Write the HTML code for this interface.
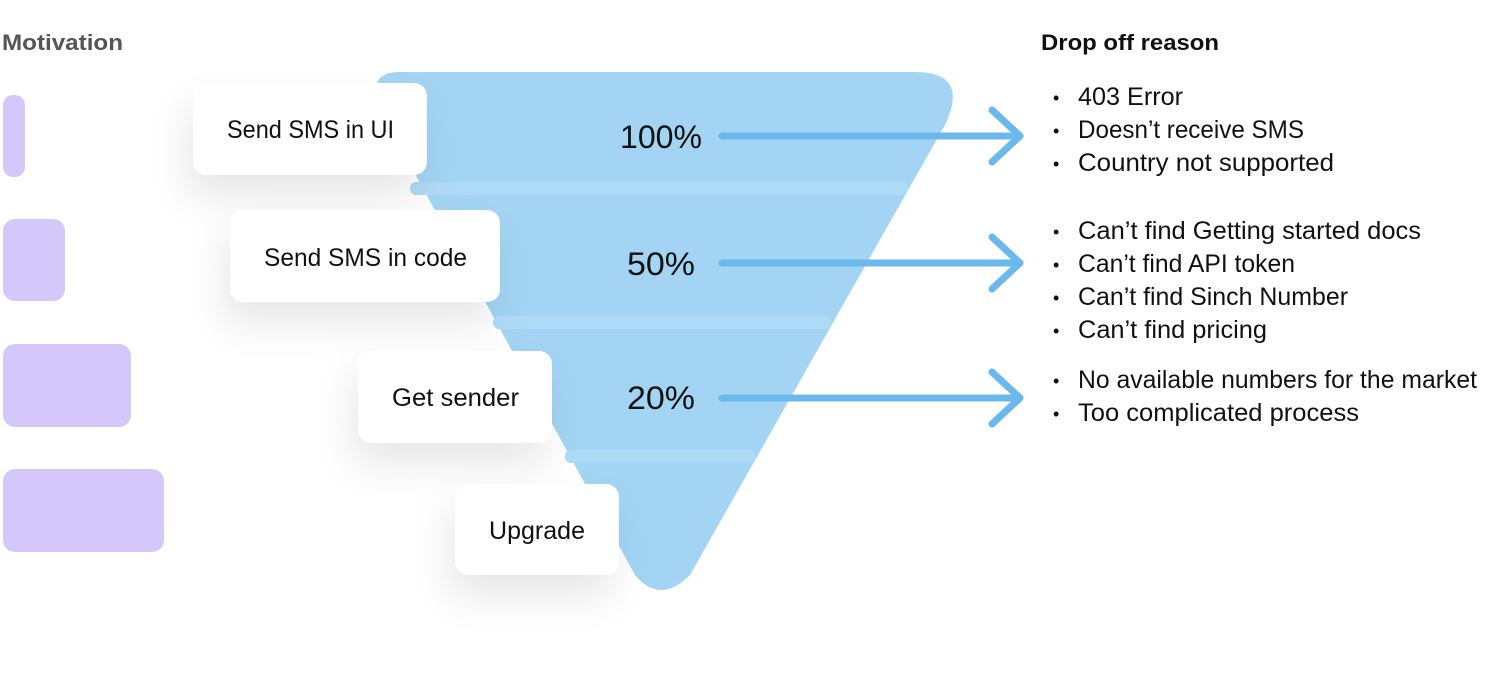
<!DOCTYPE html>
<html><head><meta charset="utf-8"><style>
html,body{margin:0;padding:0;background:#fff;}
svg{display:block;font-family:"Liberation Sans",sans-serif;}
</style></head><body>
<svg width="1500" height="673" viewBox="0 0 1500 673" xmlns="http://www.w3.org/2000/svg">
<defs>
<filter id="sh" x="-50%" y="-40%" width="200%" height="220%">
<feDropShadow dx="-6" dy="22" stdDeviation="18" flood-color="#000" flood-opacity="0.09"/>
</filter>
</defs>
<text x="2" y="50" font-size="22" font-weight="bold" fill="#555" textLength="121" lengthAdjust="spacingAndGlyphs">Motivation</text>
<rect x="3" y="95" width="22" height="82" rx="10" fill="#d4c8fa"/>
<rect x="3" y="219" width="62" height="82" rx="12" fill="#d4c8fa"/>
<rect x="3" y="344" width="128" height="83" rx="12" fill="#d4c8fa"/>
<rect x="3" y="469" width="161" height="83" rx="12" fill="#d4c8fa"/>

<path d="M400 72 L915 72 Q970 72 945 125 L690 575 Q660 605 635 575 L380 110 Q365 72 400 72 Z" fill="#a3d4f4"/>
<rect x="410" y="182" width="498" height="13" rx="6" fill="#afdaf6"/>
<rect x="493" y="316" width="338" height="13" rx="6" fill="#afdaf6"/>
<rect x="565" y="450" width="190" height="13" rx="6" fill="#afdaf6"/>

<g filter="url(#sh)" fill="#fff">
<rect x="193" y="83" width="234" height="92" rx="13"/>
<rect x="230" y="210" width="270" height="92" rx="13"/>
<rect x="358" y="351" width="194" height="92" rx="13"/>
<rect x="455" y="484" width="164" height="91" rx="13"/>
</g>
<g font-size="25" fill="#111">
<text x="227" y="138" textLength="167" lengthAdjust="spacingAndGlyphs">Send SMS in UI</text>
<text x="264" y="266" textLength="203" lengthAdjust="spacingAndGlyphs">Send SMS in code</text>
<text x="392" y="406" textLength="127" lengthAdjust="spacingAndGlyphs">Get sender</text>
<text x="489" y="539" textLength="96" lengthAdjust="spacingAndGlyphs">Upgrade</text>
</g>
<g font-size="32" fill="#111">
<text x="620" y="148" textLength="82" lengthAdjust="spacingAndGlyphs">100%</text>
<text x="627" y="275" textLength="68" lengthAdjust="spacingAndGlyphs">50%</text>
<text x="627" y="409" textLength="68" lengthAdjust="spacingAndGlyphs">20%</text>
</g>
<g stroke="#6bb8ec" stroke-width="7" stroke-linecap="round" stroke-linejoin="round" fill="none">
<path d="M722 136 H1020 M992 110 L1020 136 L992 162"/>
<path d="M722 263 H1020 M992 237 L1020 263 L992 289"/>
<path d="M722 398 H1020 M992 372 L1020 398 L992 424"/>
</g>
<text x="1041" y="50" font-size="22" font-weight="bold" fill="#111" textLength="178" lengthAdjust="spacingAndGlyphs">Drop off reason</text>
<g font-size="25" fill="#111">
<g font-size="18"><text x="1053" y="104">•</text><text x="1053" y="137">•</text><text x="1053" y="170">•</text>
<text x="1053" y="238">•</text><text x="1053" y="271">•</text><text x="1053" y="304">•</text><text x="1053" y="337">•</text>
<text x="1053" y="387">•</text><text x="1053" y="420">•</text></g>
<g>
<text x="1078" y="105" textLength="105" lengthAdjust="spacingAndGlyphs">403 Error</text>
<text x="1078" y="138" textLength="226" lengthAdjust="spacingAndGlyphs">Doesn’t receive SMS</text>
<text x="1078" y="171" textLength="256" lengthAdjust="spacingAndGlyphs">Country not supported</text>
<text x="1078" y="239" textLength="343" lengthAdjust="spacingAndGlyphs">Can’t find Getting started docs</text>
<text x="1078" y="272" textLength="217" lengthAdjust="spacingAndGlyphs">Can’t find API token</text>
<text x="1078" y="305" textLength="270" lengthAdjust="spacingAndGlyphs">Can’t find Sinch Number</text>
<text x="1078" y="338" textLength="189" lengthAdjust="spacingAndGlyphs">Can’t find pricing</text>
<text x="1078" y="388" textLength="399" lengthAdjust="spacingAndGlyphs">No available numbers for the market</text>
<text x="1078" y="421" textLength="281" lengthAdjust="spacingAndGlyphs">Too complicated process</text>
</g>
</g>
</svg>
</body></html>
